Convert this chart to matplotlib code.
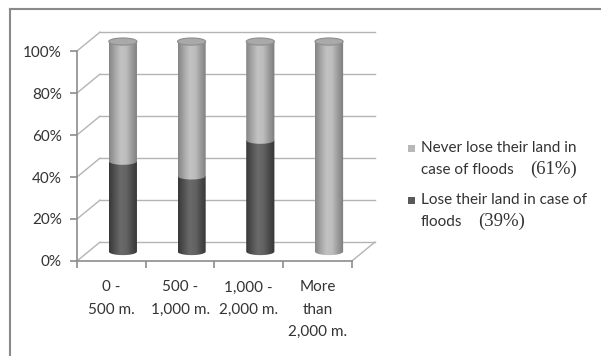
import numpy as np
import matplotlib.pyplot as plt
from matplotlib.path import Path
from matplotlib.patches import PathPatch, Ellipse, Rectangle
from matplotlib.colors import LinearSegmentedColormap
from matplotlib.lines import Line2D

categories = ["0 -\n500 m.", "500 -\n1,000 m.", "1,000 -\n2,000 m.", "More\nthan\n2,000 m."]
lose = [43, 36, 53, 0]
never_lose = [57, 64, 47, 100]
legend_lines = [["Never lose their land in", "case of floods"],
                ["Lose their land in case of", "floods"]]
legend_pct = ["(61%)", "(39%)"]

font = "Lato"
txt_col = "#333333"
grid_col = "#b4b4b4"
axis_col = "#8c8c8c"

# 3-D look: depth offset of the back wall (x in category units, y in percent)
dx, dy = 0.335, 9.0
bar_w = 0.41
cap_h = 3.4

light_cm = LinearSegmentedColormap.from_list(
    "light", ["#858585", "#a6a6a6", "#c2c2c2", "#bdbdbd", "#9a9a9a", "#7c7c7c"])
dark_cm = LinearSegmentedColormap.from_list(
    "dark", ["#383838", "#525252", "#6a6a6a", "#646464", "#4a4a4a", "#363636"])

fig = plt.figure(figsize=(6.01, 3.56), dpi=100)
ax = fig.add_axes([77 / 601, 95 / 356, 302.5 / 601, 231 / 356])

# walls and gridlines
n = len(categories)
for v in range(0, 101, 20):
    ax.plot([-0.5, -0.5 + dx], [v, v + dy], color=grid_col, lw=1, zorder=1)
    ax.plot([-0.5 + dx, n - 0.5 + dx], [v + dy, v + dy], color=grid_col, lw=1, zorder=1)
ax.plot([n - 0.5, n - 0.5 + dx], [0, dy], color=grid_col, lw=1, zorder=1)


def cylinder_piece(xc, bottom, top, cmap, z):
    x0, x1 = xc - bar_w / 2, xc + bar_w / 2
    th = np.linspace(np.pi, 2 * np.pi, 40)
    arc = np.column_stack([xc + bar_w / 2 * np.cos(th), bottom + cap_h / 2 * np.sin(th)])
    verts = np.vstack([[[x0, top]], arc, [[x1, top]], [[x0, top]]])
    codes = [Path.MOVETO] + [Path.LINETO] * (len(verts) - 2) + [Path.CLOSEPOLY]
    patch = PathPatch(Path(verts, codes), facecolor="none", edgecolor="none", zorder=z)
    ax.add_patch(patch)
    grad = np.linspace(0, 1, 64).reshape(1, -1)
    im = ax.imshow(grad, cmap=cmap, aspect="auto", zorder=z,
                   extent=(x0, x1, bottom - cap_h, top), interpolation="bilinear")
    im.set_clip_path(patch)


base = dy / 2
for i in range(n):
    xc = i + dx / 2
    z = 3
    bottom = base
    for val, cm in ((lose[i], dark_cm), (never_lose[i], light_cm)):
        if val > 0:
            cylinder_piece(xc, bottom, bottom + val, cm, z)
            z += 1
            bottom += val
    ax.add_patch(Ellipse((xc, bottom), bar_w, cap_h, facecolor="#a9a9a9",
                         edgecolor="#8e8e8e", lw=0.8, zorder=z))

ax.set_xlim(-0.5, 3.5 + 1.2 * dx)
ax.set_ylim(0, 100 + dy + 1)

# axes
for s in ("top", "right"):
    ax.spines[s].set_visible(False)
ax.spines["left"].set_bounds(0, 100)
ax.spines["bottom"].set_bounds(-0.5, n - 0.5)
for s in ("left", "bottom"):
    ax.spines[s].set_color(axis_col)
    ax.spines[s].set_linewidth(1.2)
ax.set_yticks(range(0, 101, 20))
ax.set_yticklabels([f"{v}%" for v in range(0, 101, 20)], fontfamily=font,
                   fontsize=11, color=txt_col)
ax.tick_params(axis="y", length=5, color=axis_col, width=1.2, pad=6)
ax.set_xticks(np.arange(-0.5, n, 1.0))
ax.set_xticklabels([])
ax.tick_params(axis="x", length=5, color=axis_col, width=1.2)
ax.set_xticks(range(n), minor=True)
ax.set_xticklabels(categories, minor=True, fontfamily=font, fontsize=11,
                   color=txt_col, linespacing=1.75, va="top")
ax.tick_params(axis="x", which="minor", length=0, pad=14)

# legend
leg_cols = ["#b8b8b8", "#5a5a5a"]
leg_y = [148, 200]
renderer = fig.canvas.get_renderer()
for lines, pct, col, y in zip(legend_lines, legend_pct, leg_cols, leg_y):
    fig.add_artist(Rectangle((408 / 601, 1 - (y + 4) / 356), 7 / 601, 7 / 356,
                             transform=fig.transFigure, facecolor=col, edgecolor="none"))
    for k, line in enumerate(lines):
        t = fig.text(421 / 601, 1 - (y + 4 + 22 * k) / 356, line, fontfamily=font,
                     fontsize=11, color=txt_col, va="baseline")
    w = t.get_window_extent(renderer=renderer).width
    fig.text((421 + w + 16) / 601, 1 - (y + 26) / 356, pct,
             fontfamily="Liberation Serif", fontsize=13.5, color=txt_col, va="baseline")

# outer frame
fig.add_artist(Line2D([10 / 601, 1], [1 - 9 / 356] * 2, color="#8a8a8a", lw=1.5))
fig.add_artist(Line2D([10 / 601] * 2, [0, 1 - 9 / 356], color="#8a8a8a", lw=1.5))

fig.savefig("out.png", dpi=100)
